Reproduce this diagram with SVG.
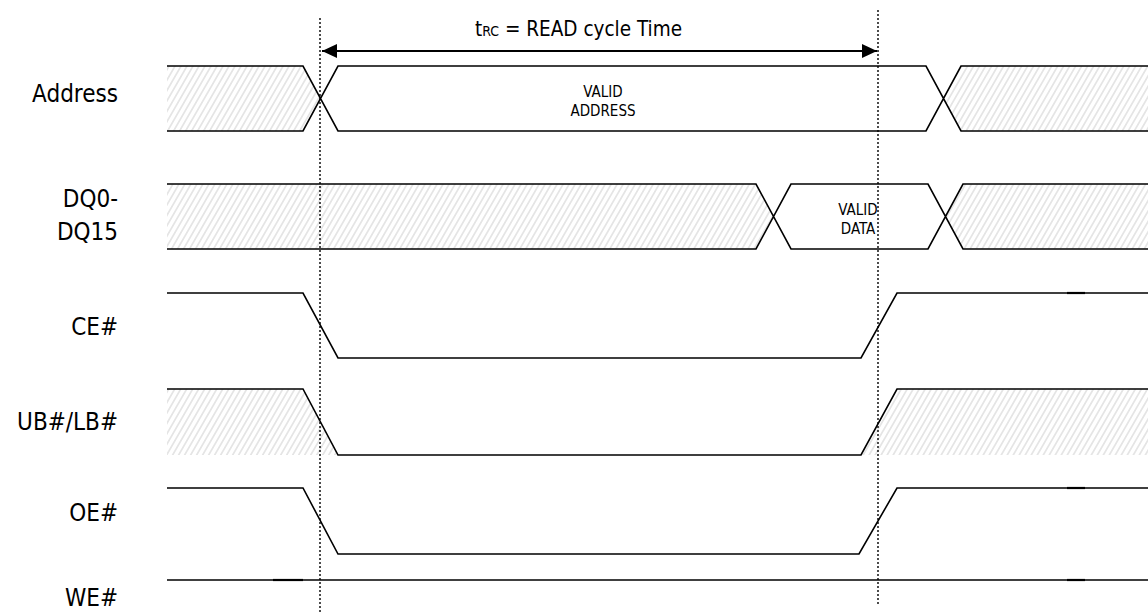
<svg xmlns="http://www.w3.org/2000/svg" width="1148" height="613" viewBox="0 0 1148 613">
<defs>
<pattern id="hatch" patternUnits="userSpaceOnUse" width="5.2" height="10" patternTransform="rotate(30)">
<line x1="2.6" y1="-1" x2="2.6" y2="11" stroke="#d2d2d2" stroke-width="1"/>
</pattern>
<marker id="ah" markerWidth="16" markerHeight="14" refX="15" refY="7" orient="auto-start-reverse" markerUnits="userSpaceOnUse">
<path d="M0,0 L15,7 L0,14 Z" fill="#000"/>
</marker>
<style>
.sig{fill:none;stroke:#000;stroke-width:1.6;stroke-linejoin:miter}
.hat{fill:url(#hatch);stroke:none}
.dot{stroke:#000;stroke-width:1.4;stroke-dasharray:2 2;fill:none}
text{font-family:"DejaVu Sans Condensed","DejaVu Sans","Liberation Sans",sans-serif;font-stretch:condensed;fill:#000}
.lbl{font-size:24px;text-anchor:end}
.small{font-size:15px;text-anchor:middle}
.ttl{font-size:20.5px}
.tick{stroke:#000;stroke-width:2.2}
</style>
</defs>
<rect width="1148" height="613" fill="#fff"/>

<g id="labels">
<text class="lbl" x="118" y="102">Address</text>
<text class="lbl" x="118" y="207">DQ0-</text>
<text class="lbl" x="118" y="240">DQ15</text>
<text class="lbl" x="118" y="335">CE#</text>
<text class="lbl" x="118" y="430">UB#/LB#</text>
<text class="lbl" x="118" y="521">OE#</text>
<text class="lbl" x="118" y="606">WE#</text>
</g>

<g id="address">
<polygon class="hat" points="167,66 303,66 320.5,98.5 303,131 167,131"/>
<polygon class="hat" points="1148,66 961,66 943.5,98.5 961,131 1148,131"/>
<path class="sig" d="M167,66 H303 L338,131 H926 L961,66 H1148 M167,131 H303 L338,66 H926 L961,131 H1148"/>
<text class="small" x="603" y="97">VALID</text>
<text class="small" x="603" y="116">ADDRESS</text>
</g>

<g id="dq">
<polygon class="hat" points="167,184 756,184 773.5,216.5 756,249 167,249"/>
<polygon class="hat" points="1148,184 963,184 945.5,216.5 963,249 1148,249"/>
<path class="sig" d="M167,184 H756 L791,249 H928 L963,184 H1148 M167,249 H756 L791,184 H928 L963,249 H1148"/>
<text class="small" x="858" y="215">VALID</text>
<text class="small" x="858" y="234">DATA</text>
</g>

<g id="ce">
<path class="sig" d="M167,293 H303 L338,358 H861 L897,293 H1148"/>
<line class="tick" x1="1067" y1="293" x2="1085" y2="293"/>
</g>

<g id="ublb">
<polygon class="hat" points="167,389 303,389 338,455 167,455"/>
<polygon class="hat" points="1148,389 897,389 861,455 1148,455"/>
<path class="sig" d="M167,389 H303 L338,455 H861 L897,389 H1148"/>
</g>

<g id="oe">
<path class="sig" d="M167,488 H303 L338,554 H859 L897,488 H1148"/>
<line class="tick" x1="1067" y1="488" x2="1085" y2="488"/>
</g>

<g id="we">
<path class="sig" d="M167,580 H1148"/>
<line class="tick" x1="273" y1="580" x2="303" y2="580"/>
<line class="tick" x1="1067" y1="580" x2="1085" y2="580"/>
</g>

<g id="connectors">
<line class="dot" x1="320" y1="18" x2="320" y2="613"/>
<line class="dot" x1="878" y1="10" x2="878" y2="604"/>
<line x1="322" y1="51" x2="877" y2="51" stroke="#000" stroke-width="2" marker-start="url(#ah)" marker-end="url(#ah)"/>
<text class="ttl" x="475" y="36">t<tspan font-size="14">RC</tspan> = READ cycle Time</text>
</g>
</svg>
